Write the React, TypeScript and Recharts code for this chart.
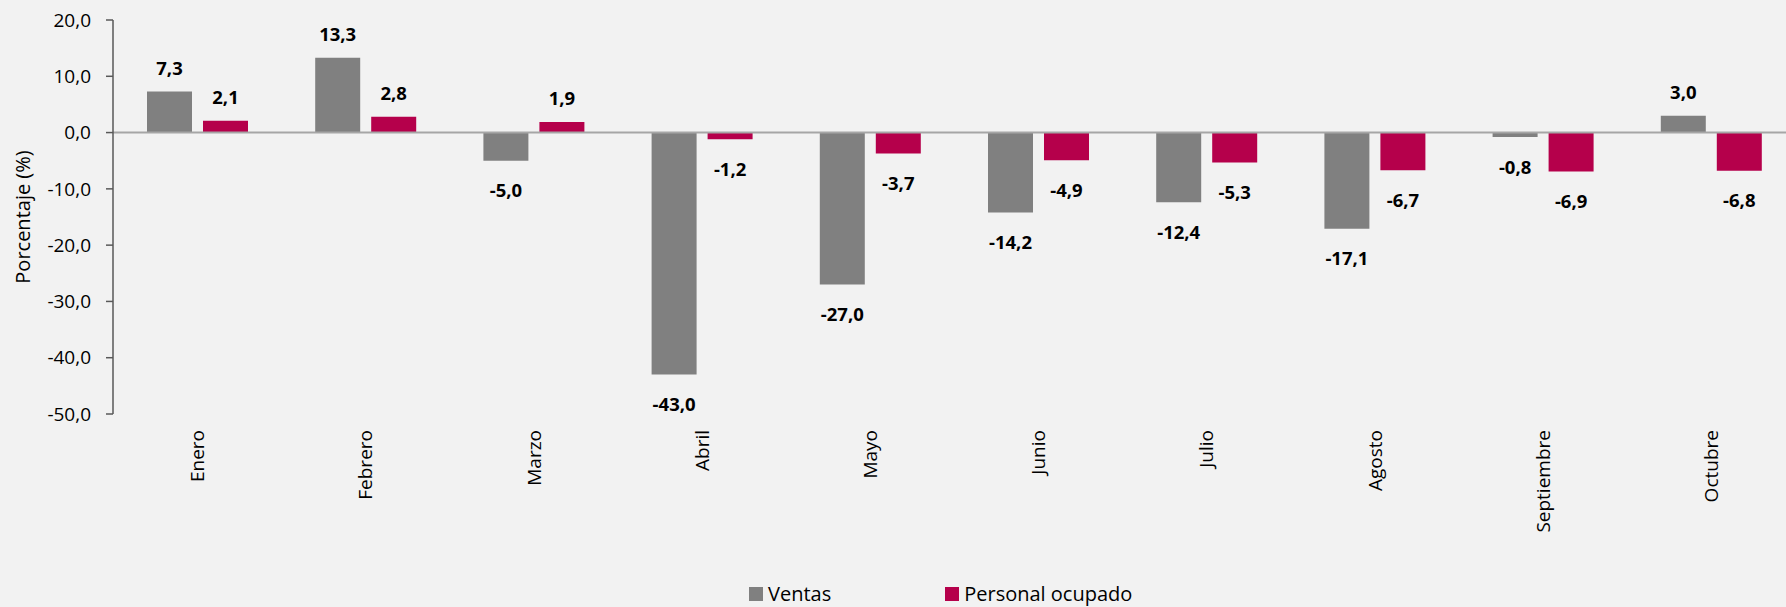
import React from "react";
import {
  BarChart,
  Bar,
  XAxis,
  YAxis,
  ReferenceLine,
  LabelList,
  Label,
} from "recharts";

const months = [
  "Enero",
  "Febrero",
  "Marzo",
  "Abril",
  "Mayo",
  "Junio",
  "Julio",
  "Agosto",
  "Septiembre",
  "Octubre",
];
const ventas = [7.3, 13.3, -5.0, -43.0, -27.0, -14.2, -12.4, -17.1, -0.8, 3.0];
const personal = [2.1, 2.8, 1.9, -1.2, -3.7, -4.9, -5.3, -6.7, -6.9, -6.8];
const yTicks = [-50, -40, -30, -20, -10, 0, 10, 20];

const data = months.map((m, i) => ({
  month: m,
  ventas: ventas[i],
  personal: personal[i],
}));

const GRAY = "#808080";
const CRIMSON = "#B5004B";
const FONT = "'Open Sans', 'Noto Sans', sans-serif";

const fmt = (v: number) => v.toFixed(1).replace(".", ",");

function ValueLabel(props: any) {
  const { x, y, width, height, value } = props;
  const top = Math.min(y, y + height);
  const bottom = Math.max(y, y + height);
  const cx = x + width / 2;
  const cy = value >= 0 ? top - 24 : bottom + 29;
  return (
    <text
      x={cx}
      y={cy}
      textAnchor="middle"
      dominantBaseline="central"
      fontFamily={FONT}
      fontWeight={700}
      fontSize={18.5}
      fill="#000"
    >
      {fmt(value)}
    </text>
  );
}

function MonthTick(props: any) {
  const { x, y, payload } = props;
  return (
    <text
      x={x}
      y={y}
      transform={`rotate(-90, ${x}, ${y})`}
      textAnchor="end"
      dominantBaseline="central"
      fontFamily={FONT}
      fontSize={19}
      fill="#000"
    >
      {payload.value}
    </text>
  );
}

export default function App() {
  return (
    <div
      style={{
        position: "fixed",
        top: 0,
        left: 0,
        width: 1786,
        height: 607,
        overflow: "hidden",
        background: "#F2F2F2",
        fontFamily: FONT,
      }}
    >
      <BarChart
        width={1795}
        height={607}
        data={data}
        margin={{ top: 20, right: 0, bottom: 0, left: 0 }}
        barGap={11}
        barSize={45}
      >
        <XAxis
          dataKey="month"
          height={193}
          axisLine={false}
          tickLine={false}
          tickSize={0}
          tickMargin={16}
          interval={0}
          tick={<MonthTick />}
        />
        <YAxis
          width={113}
          domain={[-50, 20]}
          ticks={yTicks}
          interval={0}
          tickFormatter={fmt}
          axisLine={{ stroke: "#595959", strokeWidth: 1.5 }}
          tickLine={{ stroke: "#595959", strokeWidth: 1.5 }}
          tickSize={7}
          tickMargin={15}
          tick={{ fill: "#000", fontSize: 19, fontFamily: FONT }}
        >
          <Label
            value="Porcentaje (%)"
            angle={-90}
            position="insideLeft"
            offset={23}
            style={{ fill: "#000", fontSize: 20, fontFamily: FONT, textAnchor: "middle" }}
          />
        </YAxis>
        <ReferenceLine y={0} stroke="#A6A6A6" strokeWidth={2} />
        <Bar dataKey="ventas" fill={GRAY} isAnimationActive={false}>
          <LabelList dataKey="ventas" content={<ValueLabel />} />
        </Bar>
        <Bar dataKey="personal" fill={CRIMSON} isAnimationActive={false}>
          <LabelList dataKey="personal" content={<ValueLabel />} />
        </Bar>
      </BarChart>
      <div
        style={{
          position: "absolute",
          top: 580,
          left: 749,
          display: "flex",
          alignItems: "center",
          fontSize: 20,
          color: "#000",
          whiteSpace: "nowrap",
        }}
      >
        <span style={{ width: 14, height: 14, background: GRAY, display: "inline-block" }} />
        <span style={{ marginLeft: 5 }}>Ventas</span>
        <span
          style={{
            width: 14,
            height: 14,
            background: CRIMSON,
            display: "inline-block",
            marginLeft: 114,
          }}
        />
        <span style={{ marginLeft: 5 }}>Personal ocupado</span>
      </div>
    </div>
  );
}
